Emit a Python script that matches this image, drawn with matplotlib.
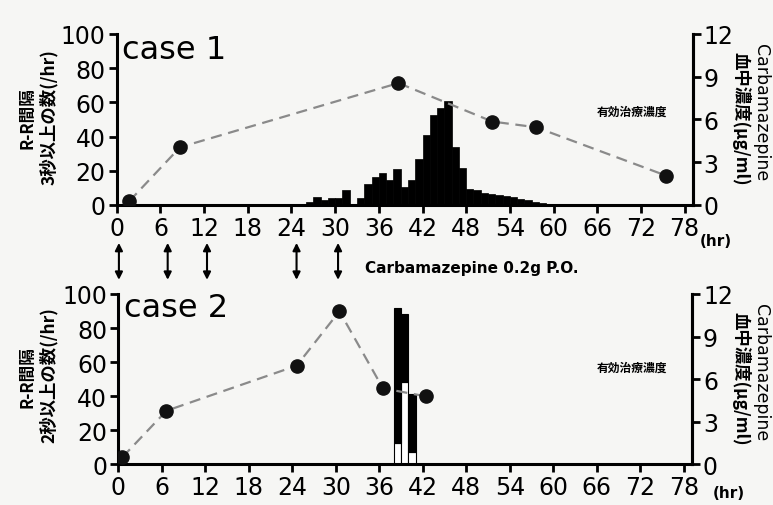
import matplotlib
matplotlib.use("Agg")
import matplotlib.pyplot as plt
import matplotlib.transforms as mtransforms

plt.rcParams['font.family'] = ['DejaVu Sans', 'Noto Sans CJK JP']

# case 1: hourly counts of R-R > 3 s (bar left edge = hour)
hours1 = list(range(25, 60))
counts1 = [0.5, 1.5, 4.5, 3, 4, 4, 8.5, 0.5, 4, 12.5, 16.5, 18.5, 14.5, 21, 10.5,
           14.5, 27, 41, 52.5, 56.5, 61, 34, 21.5, 9.5, 8.5, 7.2, 6.6, 6, 5.2,
           4.4, 3.5, 2.8, 2, 1.2, 0.6]
# case 1: carbamazepine level (ug/ml)
t1 = [1.7, 8.7, 38.7, 51.6, 57.6, 75.5]
conc1 = [0.25, 4.05, 8.55, 5.85, 5.45, 2.05]

# case 2: hourly counts of R-R > 2 s, white part + black part
hours2 = [38, 39, 40]
white2 = [12.5, 48, 7]
black2 = [79.5, 40, 34]
t2 = [0.55, 6.65, 24.6, 30.5, 36.5, 42.4]
conc2 = [0.47, 3.76, 6.94, 10.78, 5.34, 4.78]

dose_times = [0.3, 7.0, 12.4, 24.7, 30.4]
xticks = list(range(0, 79, 6))

bg = '#f6f6f4'
fig = plt.figure(figsize=(7.73, 5.06), dpi=100, facecolor=bg)

ax1 = fig.add_axes([0.151, 0.593, 0.745, 0.338])
ax2 = fig.add_axes([0.153, 0.081, 0.742, 0.336])

jp = ['Noto Sans CJK JP', 'DejaVu Sans']

def style(ax, tw):
    ax.set_facecolor(bg)
    ax.set_xlim(0, 79.1)
    ax.set_ylim(0, 100)
    ax.set_xticks(xticks)
    ax.set_yticks([0, 20, 40, 60, 80, 100])
    ax.spines['top'].set_visible(False)
    for s in ['left', 'bottom', 'right']:
        ax.spines[s].set_linewidth(2.2)
    ax.tick_params(labelsize=17, width=2, length=6, pad=2)
    tw.set_ylim(0, 12)
    tw.set_yticks([0, 3, 6, 9, 12])
    tw.spines['top'].set_visible(False)
    tw.spines['right'].set_linewidth(2.2)
    tw.tick_params(labelsize=17, width=2, length=6, pad=2)

tw1 = ax1.twinx()
tw2 = ax2.twinx()
style(ax1, tw1)
style(ax2, tw2)

ax1.bar(hours1, counts1, width=1.0, align='edge', color='black', edgecolor='black', lw=0.5)
tw1.plot(t1, conc1, color='#8a8a8a', ls=(0, (5, 3)), lw=1.6, zorder=2)
tw1.plot(t1, conc1, 'o', color='#111111', ms=9.5, zorder=3)

ax2.bar(hours2, white2, width=1.0, align='edge', color='white', edgecolor='black', lw=0.8)
ax2.bar(hours2, black2, bottom=white2, width=1.0, align='edge', color='black', edgecolor='black', lw=0.8)
tw2.plot(t2, conc2, color='#8a8a8a', ls=(0, (5, 3)), lw=1.6, zorder=2)
tw2.plot(t2, conc2, 'o', color='#111111', ms=9.5, zorder=3)

ax1.text(0.01, 1.0, 'case 1', transform=ax1.transAxes, fontsize=23, va='top', ha='left')
ax2.text(0.01, 1.01, 'case 2', transform=ax2.transAxes, fontsize=23, va='top', ha='left')

ax1.text(0.895, 0.55, '有効治療濃度', transform=ax1.transAxes,
         family=jp, fontsize=8.5, fontweight='bold', ha='center', va='center')
ax2.text(0.895, 0.57, '有効治療濃度', transform=ax2.transAxes,
         family=jp, fontsize=8.5, fontweight='bold', ha='center', va='center')

fig.text(0.036, 0.767, 'R-R間隔', rotation=90, family=jp, fontsize=12, fontweight='bold', ha='center', va='center')
fig.text(0.063, 0.769, '3秒以上の数(/hr)', rotation=90, family=jp, fontsize=12.5, fontweight='bold', ha='center', va='center')
fig.text(0.036, 0.255, 'R-R間隔', rotation=90, family=jp, fontsize=12, fontweight='bold', ha='center', va='center')
fig.text(0.063, 0.259, '2秒以上の数(/hr)', rotation=90, family=jp, fontsize=12.5, fontweight='bold', ha='center', va='center')

for yc in (0.778, 0.264):
    fig.text(0.984, yc, 'Carbamazepine', rotation=-90, fontsize=12.5, ha='center', va='center')
for yc in (0.766, 0.252):
    fig.text(0.958, yc, '血中濃度(μg/ml)', rotation=-90, family=jp, fontsize=12.5, fontweight='bold', ha='center', va='center')

fig.text(0.905, 0.522, '(hr)', fontsize=11, fontweight='bold', ha='left', va='center')
fig.text(0.922, 0.025, '(hr)', fontsize=11, fontweight='bold', ha='left', va='center')

fig.text(0.472, 0.47, 'Carbamazepine 0.2g P.O.', fontsize=11, fontweight='bold', ha='left', va='center')

trans = mtransforms.blended_transform_factory(ax1.transData, fig.transFigure)
for d in dose_times:
    ax1.annotate('', xy=(d, 0.445), xytext=(d, 0.518), xycoords=trans, textcoords=trans,
                 arrowprops=dict(arrowstyle='<|-|>', color='black', lw=1.5,
                                 mutation_scale=11, shrinkA=0, shrinkB=0),
                 annotation_clip=False)

fig.savefig('out.png', dpi=100, facecolor=bg)
